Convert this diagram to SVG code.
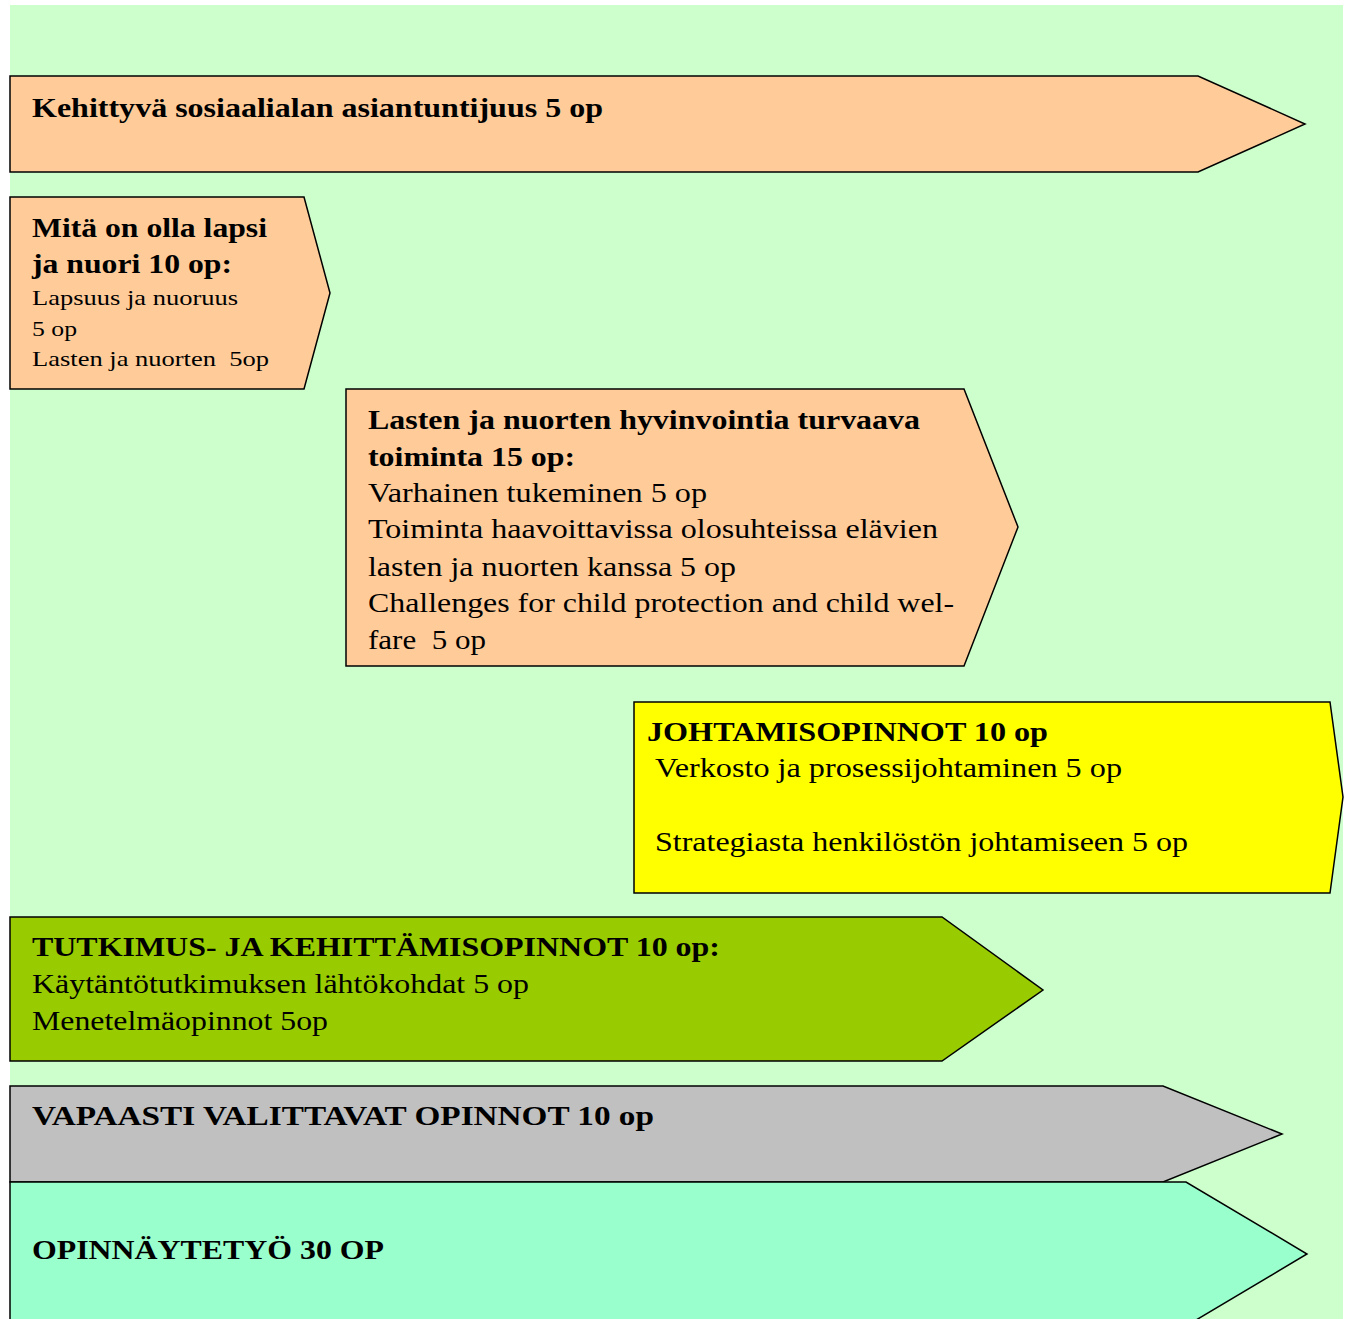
<svg xmlns="http://www.w3.org/2000/svg" width="1346" height="1319" viewBox="0 0 1346 1319">
<style>
.s{stroke:#000;stroke-width:1.5;stroke-linejoin:miter}
.peach{fill:#FFCC99}
.yel{fill:#FFFF00}
.grn{fill:#99CC00}
.gry{fill:#C0C0C0}
.mint{fill:#99FFCC}
.t{font-family:'Liberation Serif','LiberationSerif','Times New Roman','Tinos','Nimbus Roman','Noto Serif',Times,serif}
.b{font-weight:bold;font-size:28px}
.r{font-size:28px}
.sm{font-size:22px}
</style>
<rect x="0" y="0" width="1346" height="1319" fill="#FFFFFF"/>
<rect x="10" y="5" width="1333" height="1314" fill="#CCFFCC"/>
<g id="connectors"></g>
<g class="t" fill="#000">
<g id="n1">
<polygon class="s peach" points="10,76 1198,76 1305,124 1198,172 10,172"/>
<text class="b" x="32" y="117" textLength="571" lengthAdjust="spacingAndGlyphs">Kehittyvä sosiaalialan asiantuntijuus 5 op</text>
</g>
<g id="n2">
<polygon class="s peach" points="10,197 304,197 330,293 304,389 10,389"/>
<text class="b" x="32" y="237" textLength="235" lengthAdjust="spacingAndGlyphs">Mitä on olla lapsi</text>
<text class="b" x="32" y="273" textLength="200" lengthAdjust="spacingAndGlyphs">ja nuori 10 op:</text>
<text class="sm" x="32" y="305" textLength="206" lengthAdjust="spacingAndGlyphs">Lapsuus ja nuoruus</text>
<text class="sm" x="32" y="336" textLength="45" lengthAdjust="spacingAndGlyphs">5 op</text>
<text class="sm" x="32" y="366" textLength="237" lengthAdjust="spacingAndGlyphs" xml:space="preserve">Lasten ja nuorten  5op</text>
</g>
<g id="n3">
<polygon class="s peach" points="346,389 964,389 1018,527 964,666 346,666"/>
<text class="b" x="368" y="429" textLength="552" lengthAdjust="spacingAndGlyphs">Lasten ja nuorten hyvinvointia turvaava</text>
<text class="b" x="368" y="466" textLength="207" lengthAdjust="spacingAndGlyphs">toiminta 15 op:</text>
<text class="r" x="368" y="502" textLength="339" lengthAdjust="spacingAndGlyphs">Varhainen tukeminen 5 op</text>
<text class="r" x="368" y="538" textLength="570" lengthAdjust="spacingAndGlyphs">Toiminta haavoittavissa olosuhteissa elävien</text>
<text class="r" x="368" y="576" textLength="368" lengthAdjust="spacingAndGlyphs">lasten ja nuorten kanssa 5 op</text>
<text class="r" x="368" y="612" textLength="586" lengthAdjust="spacingAndGlyphs">Challenges for child protection and child wel-</text>
<text class="r" x="368" y="649" textLength="118" lengthAdjust="spacingAndGlyphs" xml:space="preserve">fare  5 op</text>
</g>
<g id="n4">
<polygon class="s yel" points="634,702 1330,702 1343,797 1330,893 634,893"/>
<text class="b" x="647" y="741" textLength="401" lengthAdjust="spacingAndGlyphs">JOHTAMISOPINNOT 10 op</text>
<text class="r" x="655" y="777" textLength="467" lengthAdjust="spacingAndGlyphs">Verkosto ja prosessijohtaminen 5 op</text>
<text class="r" x="655" y="851" textLength="533" lengthAdjust="spacingAndGlyphs">Strategiasta henkilöstön johtamiseen 5 op</text>
</g>
<g id="n5">
<polygon class="s grn" points="10,917 942,917 1043,990 942,1061 10,1061"/>
<text class="b" x="32" y="956" textLength="688" lengthAdjust="spacingAndGlyphs">TUTKIMUS- JA KEHITTÄMISOPINNOT 10 op:</text>
<text class="r" x="32" y="993" textLength="497" lengthAdjust="spacingAndGlyphs">Käytäntötutkimuksen lähtökohdat 5 op</text>
<text class="r" x="32" y="1030" textLength="296" lengthAdjust="spacingAndGlyphs">Menetelmäopinnot 5op</text>
</g>
<g id="n6">
<polygon class="s gry" points="10,1086 1163,1086 1282,1134 1163,1182 10,1182"/>
<text class="b" x="32" y="1125" textLength="622" lengthAdjust="spacingAndGlyphs">VAPAASTI VALITTAVAT OPINNOT 10 op</text>
</g>
<g id="n7">
<polygon class="s mint" points="10,1182 1186,1182 1307,1254 1186,1326 10,1326"/>
<text class="b" x="32" y="1259" textLength="352" lengthAdjust="spacingAndGlyphs">OPINNÄYTETYÖ 30 OP</text>
</g>
</g>
</svg>
